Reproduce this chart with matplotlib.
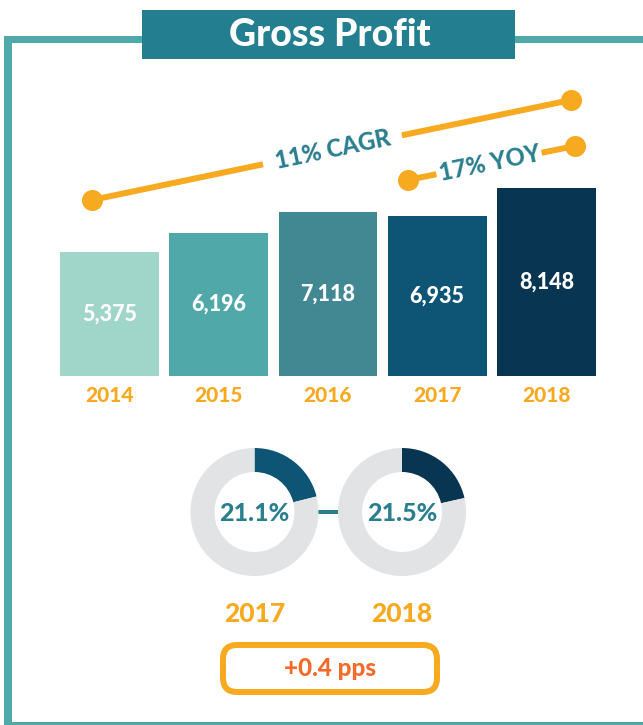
import numpy as np
import matplotlib
matplotlib.use("Agg")
import matplotlib.pyplot as plt
from matplotlib.patches import Rectangle, FancyBboxPatch

plt.rcParams['font.family'] = ['Lato', 'DejaVu Sans']

# data
years = ['2014', '2015', '2016', '2017', '2018']
gross_profit = [5375, 6196, 7118, 6935, 8148]
bar_colors = ['#A0D6CA', '#51A8A8', '#428893', '#0E5575', '#083652']

margin_years = ['2017', '2018']
margins = [21.1, 21.5]
margin_colors = ['#0E5575', '#083652']

title = 'Gross Profit'
cagr_label = '11% CAGR'
yoy_label = '17% YOY'
pps_label = '+0.4 pps'

teal = '#4FA9A8'
title_bg = '#237F8F'
orange = '#F7A91F'
label_teal = '#2A7F8E'
grey = '#E2E3E5'
BOLD = 900

W, H = 643, 725
px = 72 / 100  # points per pixel

fig = plt.figure(figsize=(W / 100, H / 100), dpi=100)
fig.patch.set_facecolor('white')

# overlay axes in pixel units
ax = fig.add_axes([0, 0, 1, 1], zorder=0)
ax.set_xlim(0, W)
ax.set_ylim(H, 0)
ax.axis('off')

# frame
ax.add_patch(Rectangle((4, 36), 8, H - 36, color=teal, lw=0))
ax.add_patch(Rectangle((4, 36), W - 4, 7, color=teal, lw=0))
ax.add_patch(Rectangle((4, 722), W - 4, 4, color=teal, lw=0))

# title box
ax.add_patch(Rectangle((142, 10), 373, 49, color=title_bg, lw=0))
ax.text(330, 35, title, color='white', fontsize=27, fontweight=BOLD,
        ha='center', va='center')


def trend(p0, p1, gap0, gap1, label, tpos):
    (x0, y0), (x1, y1) = p0, p1
    t = np.array([0, gap0, gap1, 1.0])
    xs = x0 + (x1 - x0) * t
    ys = y0 + (y1 - y0) * t
    ax.plot(xs[:2], ys[:2], color=orange, lw=6 * px, solid_capstyle='butt')
    ax.plot(xs[2:], ys[2:], color=orange, lw=6 * px, solid_capstyle='butt')
    ax.plot([x0, x1], [y0, y1], 'o', color=orange, ms=21 * px, mew=0)
    ang = np.degrees(np.arctan2(y0 - y1, x1 - x0))
    tx = x0 + (x1 - x0) * tpos
    ty = y0 + (y1 - y0) * tpos
    ax.text(tx, ty, label, color=label_teal, fontsize=17, fontweight=BOLD,
            rotation=ang, rotation_mode='anchor', ha='center', va='center')


trend((92, 200), (571, 100), 0.357, 0.647, cagr_label, 0.502)
trend((408, 180), (575, 146), 0.17, 0.80, yoy_label, 0.49)

# bars
bx = fig.add_axes([55 / W, (H - 376) / H, 546 / W, 226 / H], zorder=1)
x = np.arange(len(years))
bx.bar(x, gross_profit, width=0.906, color=bar_colors, lw=0)
bx.set_xlim(-0.5, len(years) - 0.5)
bx.set_ylim(0, 226 / 0.0231)
bx.axis('off')
for i, v in enumerate(gross_profit):
    bx.text(i, v / 2, f'{v:,}', color='white', fontsize=15.5, fontweight=BOLD,
            ha='center', va='center')
    bx.annotate(years[i], xy=(i, 0), xytext=(0, -20 * px), textcoords='offset points',
                color=orange, fontsize=15, fontweight=BOLD, ha='center', va='center',
                annotation_clip=False)

# donuts
centers = [(254.5, 512), (402, 512)]
R = 64
ax.plot([318, 338], [512, 512], color='#2E7F8C', lw=4 * px, solid_capstyle='butt')
for (cx, cy), m, c, yr in zip(centers, margins, margin_colors, margin_years):
    dx = fig.add_axes([(cx - R) / W, (H - (cy + R)) / H, 2 * R / W, 2 * R / H], zorder=1)
    dx.pie([m, 100 - m], colors=[c, grey], startangle=90, counterclock=False,
           wedgeprops=dict(width=24 / R, linewidth=0))
    dx.set_xlim(-1, 1)
    dx.set_ylim(-1, 1)
    dx.axis('off')
    dx.text(0, -0.03, f'{m}%', color=label_teal, fontsize=18, fontweight=BOLD,
            ha='center', va='center')
    dx.annotate(yr, xy=(0, -1), xytext=(0, -38 * px), textcoords='offset points',
                color=orange, fontsize=19, fontweight=BOLD, ha='center', va='center',
                annotation_clip=False)

# pps box
ax.add_patch(FancyBboxPatch((223, 645), 214, 47, boxstyle='round,pad=0,rounding_size=14',
                            facecolor='white', edgecolor=orange, lw=6 * px))
ax.text(330, 668, pps_label, color='#F26B2A', fontsize=17.5, fontweight=BOLD,
        ha='center', va='center')

fig.savefig('out.png', dpi=100)
